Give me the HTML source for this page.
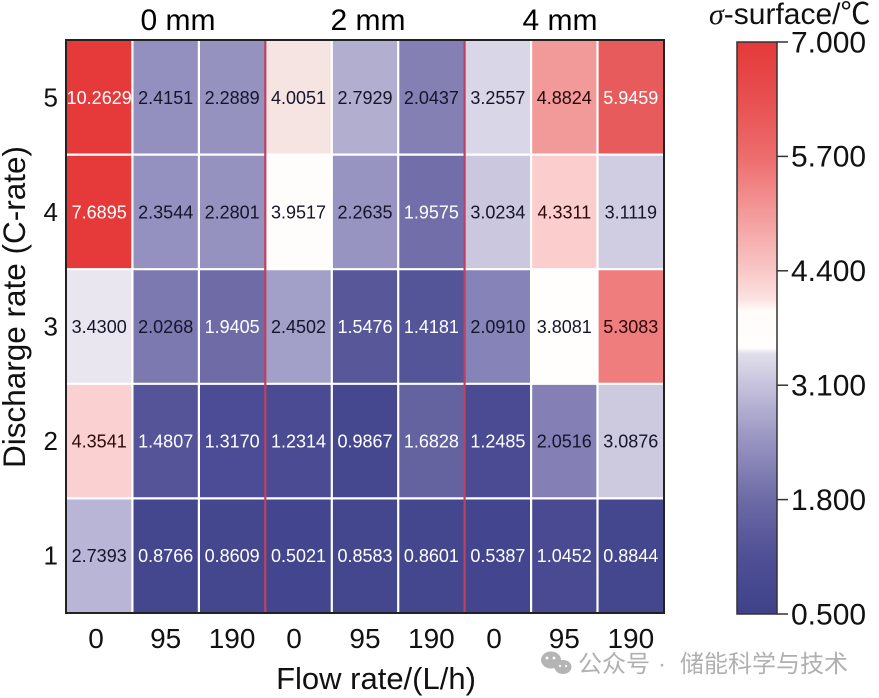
<!DOCTYPE html>
<html><head><meta charset="utf-8"><style>
html,body{margin:0;padding:0;background:#fff;}
svg{display:block;}
text{font-family:"Liberation Sans",Arial,sans-serif;}
.v{font-size:18px;text-anchor:middle;}
.d{fill:#15152a;}
.w{fill:#fff;}
.r{fill:#2a0808;}
</style></head><body>
<svg width="879" height="698" viewBox="0 0 879 698" xmlns="http://www.w3.org/2000/svg">
<defs>
<linearGradient id="cb" x1="0" y1="0" x2="0" y2="1">
<stop offset="0" stop-color="#e4393a"/>
<stop offset="0.1" stop-color="#e84f50"/>
<stop offset="0.2" stop-color="#ed6c6d"/>
<stop offset="0.3" stop-color="#f49a9a"/>
<stop offset="0.4" stop-color="#f9c7c7"/>
<stop offset="0.45" stop-color="#fce3e1"/>
<stop offset="0.47" stop-color="#fffcfa"/>
<stop offset="0.535" stop-color="#fffefd"/>
<stop offset="0.545" stop-color="#e1dfea"/>
<stop offset="0.6" stop-color="#c6c2dd"/>
<stop offset="0.68" stop-color="#9f9bc6"/>
<stop offset="0.8" stop-color="#6d6aa6"/>
<stop offset="0.9" stop-color="#4f4f95"/>
<stop offset="1" stop-color="#3f428a"/>
</linearGradient>
</defs>

<!-- column group headers -->
<text x="178" y="30" font-size="30" text-anchor="middle">0 mm</text>
<text x="368" y="30" font-size="30" text-anchor="middle">2 mm</text>
<text x="560" y="30" font-size="30" text-anchor="middle">4 mm</text>

<!-- cells: row 5 -->
<rect x="66" y="40" width="66.5" height="114.6" fill="#e6393a"/>
<rect x="132.4" y="40" width="66.5" height="114.6" fill="#9390bf"/>
<rect x="198.9" y="40" width="66.5" height="114.6" fill="#9592c0"/>
<rect x="265.3" y="40" width="66.5" height="114.6" fill="#f5e4e2"/>
<rect x="331.8" y="40" width="66.5" height="114.6" fill="#b2aed0"/>
<rect x="398.2" y="40" width="66.5" height="114.6" fill="#8480b4"/>
<rect x="464.6" y="40" width="66.5" height="114.6" fill="#d9d6e8"/>
<rect x="531.1" y="40" width="66.5" height="114.6" fill="#f29a9a"/>
<rect x="597.5" y="40" width="66.5" height="114.6" fill="#e85b5c"/>
<!-- row 4 -->
<rect x="66" y="154.6" width="66.5" height="114.6" fill="#e6393a"/>
<rect x="132.4" y="154.6" width="66.5" height="114.6" fill="#9491c0"/>
<rect x="198.9" y="154.6" width="66.5" height="114.6" fill="#9592c0"/>
<rect x="265.3" y="154.6" width="66.5" height="114.6" fill="#fffdfb"/>
<rect x="331.8" y="154.6" width="66.5" height="114.6" fill="#9794c2"/>
<rect x="398.2" y="154.6" width="66.5" height="114.6" fill="#716ea9"/>
<rect x="464.6" y="154.6" width="66.5" height="114.6" fill="#cac7df"/>
<rect x="531.1" y="154.6" width="66.5" height="114.6" fill="#fbcdcd"/>
<rect x="597.5" y="154.6" width="66.5" height="114.6" fill="#d0cde3"/>
<!-- row 3 -->
<rect x="66" y="269.2" width="66.5" height="114.6" fill="#e9e6ef"/>
<rect x="132.4" y="269.2" width="66.5" height="114.6" fill="#7c79b0"/>
<rect x="198.9" y="269.2" width="66.5" height="114.6" fill="#6e6ba7"/>
<rect x="265.3" y="269.2" width="66.5" height="114.6" fill="#a29fc8"/>
<rect x="331.8" y="269.2" width="66.5" height="114.6" fill="#57579a"/>
<rect x="398.2" y="269.2" width="66.5" height="114.6" fill="#545498"/>
<rect x="464.6" y="269.2" width="66.5" height="114.6" fill="#8683b8"/>
<rect x="531.1" y="269.2" width="66.5" height="114.6" fill="#fffefc"/>
<rect x="597.5" y="269.2" width="66.5" height="114.6" fill="#ef7d7e"/>
<!-- row 2 -->
<rect x="66" y="383.8" width="66.5" height="114.6" fill="#fbd0d0"/>
<rect x="132.4" y="383.8" width="66.5" height="114.6" fill="#555499"/>
<rect x="198.9" y="383.8" width="66.5" height="114.6" fill="#4b4c95"/>
<rect x="265.3" y="383.8" width="66.5" height="114.6" fill="#4a4b93"/>
<rect x="331.8" y="383.8" width="66.5" height="114.6" fill="#46488f"/>
<rect x="398.2" y="383.8" width="66.5" height="114.6" fill="#65639f"/>
<rect x="464.6" y="383.8" width="66.5" height="114.6" fill="#4a4b93"/>
<rect x="531.1" y="383.8" width="66.5" height="114.6" fill="#8480b6"/>
<rect x="597.5" y="383.8" width="66.5" height="114.6" fill="#cdcae0"/>
<!-- row 1 -->
<rect x="66" y="498.4" width="66.5" height="114.6" fill="#b8b5d6"/>
<rect x="132.4" y="498.4" width="66.5" height="114.6" fill="#44478e"/>
<rect x="198.9" y="498.4" width="66.5" height="114.6" fill="#44478e"/>
<rect x="265.3" y="498.4" width="66.5" height="114.6" fill="#43468e"/>
<rect x="331.8" y="498.4" width="66.5" height="114.6" fill="#44478e"/>
<rect x="398.2" y="498.4" width="66.5" height="114.6" fill="#44478e"/>
<rect x="464.6" y="498.4" width="66.5" height="114.6" fill="#43468e"/>
<rect x="531.1" y="498.4" width="66.5" height="114.6" fill="#494a91"/>
<rect x="597.5" y="498.4" width="66.5" height="114.6" fill="#44478e"/>

<!-- white grid lines -->
<g stroke="#ffffff" stroke-width="2.2">
<line x1="132.4" y1="40" x2="132.4" y2="613"/>
<line x1="198.9" y1="40" x2="198.9" y2="613"/>
<line x1="331.8" y1="40" x2="331.8" y2="613"/>
<line x1="398.2" y1="40" x2="398.2" y2="613"/>
<line x1="531.1" y1="40" x2="531.1" y2="613"/>
<line x1="597.5" y1="40" x2="597.5" y2="613"/>
<line x1="66" y1="154.6" x2="664" y2="154.6"/>
<line x1="66" y1="269.2" x2="664" y2="269.2"/>
<line x1="66" y1="383.8" x2="664" y2="383.8"/>
<line x1="66" y1="498.4" x2="664" y2="498.4"/>
</g>
<!-- red separators -->
<g stroke="#c0415e" stroke-width="2.2">
<line x1="265.3" y1="40" x2="265.3" y2="613"/>
<line x1="464.6" y1="40" x2="464.6" y2="613"/>
</g>
<!-- border -->
<rect x="66" y="40" width="598" height="573" fill="none" stroke="#222" stroke-width="2"/>

<!-- cell values -->
<g class="v">
<text x="99.2" y="104" class="w" fill="#fde8e8">10.2629</text>
<text x="165.7" y="104" class="d">2.4151</text>
<text x="232.1" y="104" class="d">2.2889</text>
<text x="298.5" y="104" class="d">4.0051</text>
<text x="365" y="104" class="d">2.7929</text>
<text x="431.4" y="104" class="d">2.0437</text>
<text x="497.9" y="104" class="d">3.2557</text>
<text x="564.3" y="104" class="r">4.8824</text>
<text x="630.8" y="104" class="w">5.9459</text>

<text x="99.2" y="218.5" class="w">7.6895</text>
<text x="165.7" y="218.5" class="d">2.3544</text>
<text x="232.1" y="218.5" class="d">2.2801</text>
<text x="298.5" y="218.5" class="d">3.9517</text>
<text x="365" y="218.5" class="d">2.2635</text>
<text x="431.4" y="218.5" class="w">1.9575</text>
<text x="497.9" y="218.5" class="d">3.0234</text>
<text x="564.3" y="218.5" class="r">4.3311</text>
<text x="630.8" y="218.5" class="d">3.1119</text>

<text x="99.2" y="333" class="d">3.4300</text>
<text x="165.7" y="333" class="d">2.0268</text>
<text x="232.1" y="333" class="w">1.9405</text>
<text x="298.5" y="333" class="d">2.4502</text>
<text x="365" y="333" class="w">1.5476</text>
<text x="431.4" y="333" class="w">1.4181</text>
<text x="497.9" y="333" class="d">2.0910</text>
<text x="564.3" y="333" class="d">3.8081</text>
<text x="630.8" y="333" class="r">5.3083</text>

<text x="99.2" y="447.6" class="r">4.3541</text>
<text x="165.7" y="447.6" class="w">1.4807</text>
<text x="232.1" y="447.6" class="w">1.3170</text>
<text x="298.5" y="447.6" class="w">1.2314</text>
<text x="365" y="447.6" class="w">0.9867</text>
<text x="431.4" y="447.6" class="w">1.6828</text>
<text x="497.9" y="447.6" class="w">1.2485</text>
<text x="564.3" y="447.6" class="d">2.0516</text>
<text x="630.8" y="447.6" class="d">3.0876</text>

<text x="99.2" y="562.2" class="d">2.7393</text>
<text x="165.7" y="562.2" class="w">0.8766</text>
<text x="232.1" y="562.2" class="w">0.8609</text>
<text x="298.5" y="562.2" class="w">0.5021</text>
<text x="365" y="562.2" class="w">0.8583</text>
<text x="431.4" y="562.2" class="w">0.8601</text>
<text x="497.9" y="562.2" class="w">0.5387</text>
<text x="564.3" y="562.2" class="w">1.0452</text>
<text x="630.8" y="562.2" class="w">0.8844</text>
</g>

<!-- y ticks -->
<g font-size="26" text-anchor="end" fill="#111">
<text x="58" y="106.5">5</text>
<text x="58" y="221">4</text>
<text x="58" y="335.5">3</text>
<text x="58" y="450">2</text>
<text x="58" y="564.7">1</text>
</g>
<text transform="translate(25,307) rotate(-90)" font-size="31.5" text-anchor="middle" fill="#111">Discharge rate (C-rate)</text>

<!-- x ticks -->
<g font-size="28" text-anchor="middle" fill="#111">
<text x="96" y="648">0</text>
<text x="165.7" y="648">95</text>
<text x="232.1" y="648">190</text>
<text x="294" y="648">0</text>
<text x="365" y="648">95</text>
<text x="431.4" y="648">190</text>
<text x="494" y="648">0</text>
<text x="564.3" y="648">95</text>
<text x="630.8" y="648">190</text>
</g>
<text x="376" y="689" font-size="31" text-anchor="middle" fill="#111">Flow rate/(L/h)</text>

<!-- colorbar -->
<text x="709" y="24" font-size="30" fill="#111"><tspan font-family="Liberation Serif, serif" font-style="italic">σ</tspan>-surface/<tspan font-family="'Noto Sans CJK SC', sans-serif">℃</tspan></text>
<rect x="737" y="42" width="40" height="572" fill="url(#cb)" stroke="#333" stroke-width="1.5"/>
<g stroke="#333" stroke-width="1.5">
<line x1="777" y1="42" x2="788" y2="42"/>
<line x1="777" y1="156.4" x2="788" y2="156.4"/>
<line x1="777" y1="270.8" x2="788" y2="270.8"/>
<line x1="777" y1="385.2" x2="788" y2="385.2"/>
<line x1="777" y1="499.6" x2="788" y2="499.6"/>
<line x1="777" y1="614" x2="788" y2="614"/>
</g>
<g font-size="30" fill="#111">
<text x="791" y="52.5">7.000</text>
<text x="791" y="166.5">5.700</text>
<text x="791" y="281">4.400</text>
<text x="791" y="395.5">3.100</text>
<text x="791" y="510">1.800</text>
<text x="791" y="624.5">0.500</text>
</g>

<!-- watermark -->
<g fill="#b4b4b4">
<ellipse cx="551" cy="660" rx="10" ry="8.5"/>
<ellipse cx="563" cy="667" rx="8.5" ry="7"/>
</g>
<g fill="#fff">
<circle cx="547" cy="658" r="1.4"/><circle cx="554" cy="658" r="1.4"/>
<circle cx="560" cy="666" r="1.1"/><circle cx="566" cy="666" r="1.1"/>
</g>
<g font-family="'Noto Sans CJK SC', 'WenQuanYi Zen Hei', sans-serif" font-size="24" fill="#b0b0b0">
<text x="578" y="672">公众号</text>
<text x="658" y="672">·</text>
<text x="680" y="672">储能科学与技术</text>
</g>
</svg>
</body></html>
